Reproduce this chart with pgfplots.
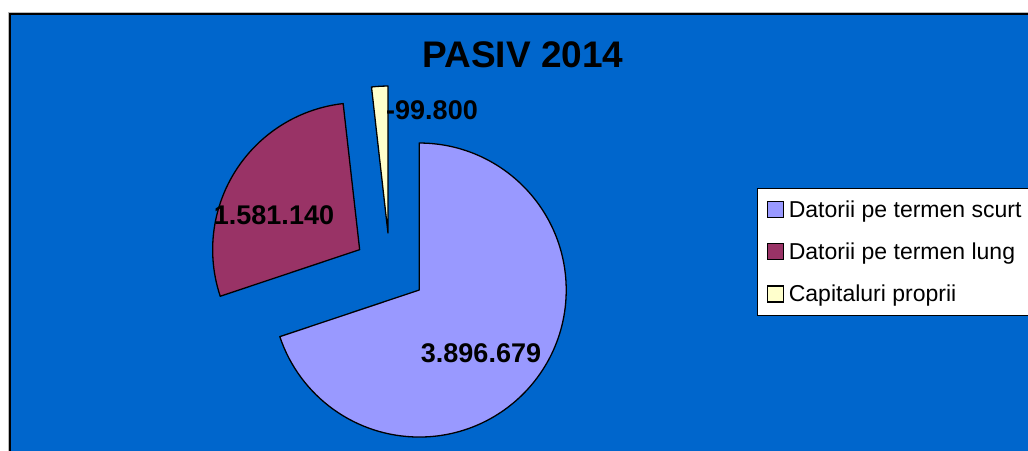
\documentclass[border=0pt]{standalone}
\usepackage{fontspec}
\setmainfont{Liberation Sans}
\usepackage{pgfplots}
\usepackage{pgfplotstable}
\pgfplotsset{compat=1.18}
\definecolor{bgblue}{HTML}{0066CC}
\definecolor{sliceA}{HTML}{9999FF}
\definecolor{sliceB}{HTML}{993366}
\definecolor{sliceC}{HTML}{FFFFCC}

\pgfplotstableread{
part value
1 3896679
2 1581140
3 99800
}\piedata

% pie geometry (axis units = pt)
\def\cx{390}\def\cy{181}\def\R{147}
\newcommand\pieslice[4]{%
  \edef\pmid{\fpeval{(#1+#2)/2}}%
  \edef\ax{\fpeval{round(\cx+#4*cosd(\pmid),4)}}%
  \edef\ay{\fpeval{round(\cy+#4*sind(\pmid),4)}}%
  \edef\bx{\fpeval{round(\ax+\R*cosd(#1),4)}}%
  \edef\by{\fpeval{round(\ay+\R*sind(#1),4)}}%
  \edef\tmp{\noexpand\filldraw[fill=#3,draw=black,line width=1.3pt,line join=round]
    (axis cs:\ax,\ay) -- (axis cs:\bx,\by)
    arc[start angle=#1,end angle=#2,radius=\R pt] -- cycle;}%
  \tmp}

\begin{document}
\begin{tikzpicture}
\pgfplotstablegetelem{0}{value}\of\piedata\edef\va{\pgfplotsretval}
\pgfplotstablegetelem{1}{value}\of\piedata\edef\vb{\pgfplotsretval}
\pgfplotstablegetelem{2}{value}\of\piedata\edef\vc{\pgfplotsretval}
\edef\T{\fpeval{\va+\vb+\vc}}
\edef\sA{90}
\edef\eA{\fpeval{round(90-360*\va/\T,4)}}
\edef\eB{\fpeval{round(\eA-360*\vb/\T,4)}}
\edef\eC{\fpeval{round(\eB-360*\vc/\T,4)}}
\path[use as bounding box, clip] (0,0) rectangle (1028pt,450pt);
\begin{axis}[
  at={(0pt,0pt)}, anchor=origin,
  scale only axis, width=1028pt, height=450pt,
  xmin=0, xmax=1028, ymin=0, ymax=450,
  hide axis, clip=true,
  legend cell align=left,
  legend style={at={(0.7364,0.5822)}, anchor=north west,
    draw=black, line width=1.2pt, fill=white,
    font=\fontsize{23}{27}\selectfont,
    row sep=20pt, inner xsep=9pt, inner ysep=10pt},
]
% frame and background
\fill[gray!55] (7.5,-20) rectangle (1100,437.5);
\filldraw[fill=bgblue, draw=black, line width=2pt] (10,-20) rectangle (1100,435.5);
% pie
\pieslice{\sA}{\eA}{sliceA}{36}
\pieslice{\eA}{\eB}{sliceB}{36}
\pieslice{\eB}{\eC}{sliceC}{36}
% title and data labels
\node[anchor=base, font=\bfseries\fontsize{37}{40}\selectfont] at (axis cs:523,382) {PASIV 2014};
\node[anchor=base, font=\bfseries\fontsize{27}{30}\selectfont] at (axis cs:481,88) {3.896.679};
\node[anchor=base, font=\bfseries\fontsize{27}{30}\selectfont] at (axis cs:274,225) {1.581.140};
\node[anchor=base, font=\bfseries\fontsize{27}{30}\selectfont] at (axis cs:432,330) {-99.800};
% legend
\addlegendimage{legend image code/.code={\filldraw[fill=sliceA,draw=black,line width=1.2pt] (0pt,-8pt) rectangle (16pt,8pt);}}
\addlegendentry{\hspace*{3pt}Datorii pe termen scurt\hspace*{30pt}}
\addlegendimage{legend image code/.code={\filldraw[fill=sliceB,draw=black,line width=1.2pt] (0pt,-8pt) rectangle (16pt,8pt);}}
\addlegendentry{\hspace*{3pt}Datorii pe termen lung}
\addlegendimage{legend image code/.code={\filldraw[fill=sliceC,draw=black,line width=1.2pt] (0pt,-8pt) rectangle (16pt,8pt);}}
\addlegendentry{\hspace*{3pt}Capitaluri proprii}
\end{axis}
\end{tikzpicture}
\end{document}
